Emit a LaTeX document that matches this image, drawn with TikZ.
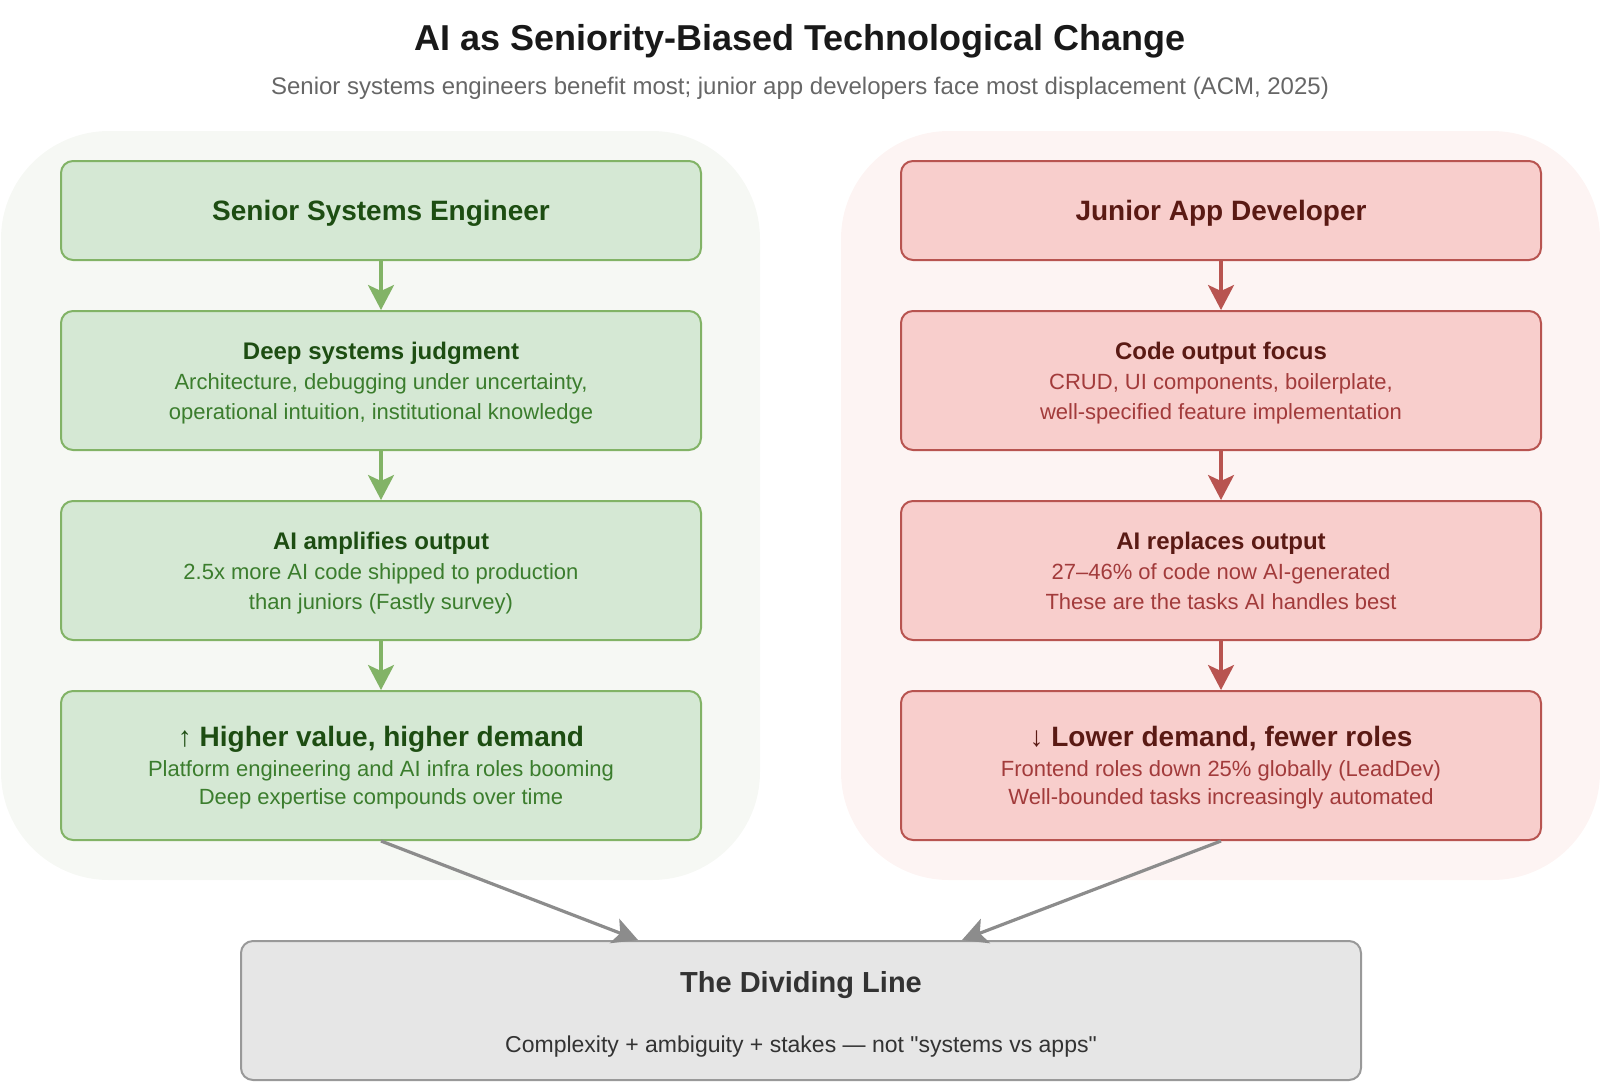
\documentclass[tikz,border=0pt]{standalone}
\usepackage{fontspec}
\setmainfont{Liberation Sans}
\usetikzlibrary{positioning, arrows.meta}
\definecolor{senbgc}{HTML}{F6F8F4}
\definecolor{junbgc}{HTML}{FDF4F3}
\definecolor{senfill}{HTML}{D5E8D4}
\definecolor{senline}{HTML}{82B366}
\definecolor{senhead}{HTML}{1D4D12}
\definecolor{sentext}{HTML}{3B7D2D}
\definecolor{junfill}{HTML}{F8CECC}
\definecolor{junline}{HTML}{B85450}
\definecolor{junhead}{HTML}{5A1A14}
\definecolor{juntext}{HTML}{A23B3B}
\definecolor{divfill}{HTML}{E6E6E6}
\definecolor{divline}{HTML}{999999}
\definecolor{mergec}{HTML}{8C8C8C}
\tikzset{
node distance=24.5pt, % gap between the boxes of one column
box/.style={draw, rounded corners=6pt, line width=1pt, minimum width=320pt, align=center, inner sep=0pt,
  text depth=0pt, font=\fontsize{11}{15}\selectfont},
senbox/.style={box, fill=senfill, draw=senline, text=sentext},
junbox/.style={box, fill=junfill, draw=junline, text=juntext},
outcome/.style={minimum height=74.5pt, font=\fontsize{11}{14}\selectfont},
divbox/.style={draw=divline, fill=divfill, rounded corners=6pt, line width=1pt, minimum width=560pt,
  minimum height=69.5pt},
divtext/.style={anchor=base, text=black!80},
senflow/.style={draw=senline, line width=1.6pt, -{Stealth[length=12.5pt,width=13pt,inset=3pt]}},
junflow/.style={draw=junline, line width=1.6pt, -{Stealth[length=12.5pt,width=13pt,inset=3pt]}},
merge/.style={draw=mergec, line width=1.6pt, -{Stealth[length=12.5pt,width=13pt,inset=3pt]}},
}

\begin{document}
\begin{tikzpicture}[x=0.5pt, y=-0.5pt]
\useasboundingbox (0,0) rectangle (1600,1082);
% heading
\node[anchor=base, font=\fontsize{18}{20}\selectfont\bfseries, text=black!90] (title) at (800,50) {AI as Seniority-Biased Technological Change};
\node[anchor=base, font=\fontsize{12}{14}\selectfont, text=black!60] (subtitle) at (800,94) {Senior systems engineers benefit most; junior app developers face most displacement (ACM, 2025)};
% column backgrounds
\fill[senbgc, rounded corners=54pt] (1,131) rectangle (760,880);
\fill[junbgc, rounded corners=54pt] (841,131) rectangle (1600,880);
% senior column
\node[senbox, minimum height=49.5pt] (sen1) at (381,210.5) {\fontsize{14}{16}\selectfont\bfseries\color{senhead}Senior Systems Engineer};
\node[senbox, minimum height=69.5pt, below=of sen1] (sen2) {{\fontsize{12}{15}\selectfont\bfseries\color{senhead}Deep systems judgment}\\Architecture, debugging under uncertainty,\\operational intuition, institutional knowledge};
\node[senbox, minimum height=69.5pt, below=of sen2] (sen3) {{\fontsize{12}{15}\selectfont\bfseries\color{senhead}AI amplifies output}\\2.5x more AI code shipped to production\\than juniors (Fastly survey)};
\node[senbox, outcome, below=of sen3] (sen4) {{\fontsize{14}{16}\selectfont\bfseries\color{senhead}↑ Higher value, higher demand}\\[1pt]Platform engineering and AI infra roles booming\\Deep expertise compounds over time};
% junior column
\node[junbox, minimum height=49.5pt] (jun1) at (1221,210.5) {\fontsize{14}{16}\selectfont\bfseries\color{junhead}Junior App Developer};
\node[junbox, minimum height=69.5pt, below=of jun1] (jun2) {{\fontsize{12}{15}\selectfont\bfseries\color{junhead}Code output focus}\\CRUD, UI components, boilerplate,\\well-specified feature implementation};
\node[junbox, minimum height=69.5pt, below=of jun2] (jun3) {{\fontsize{12}{15}\selectfont\bfseries\color{junhead}AI replaces output}\\27–46\% of code now AI-generated\\These are the tasks AI handles best};
\node[junbox, outcome, below=of jun3] (jun4) {{\fontsize{14}{16}\selectfont\bfseries\color{junhead}↓ Lower demand, fewer roles}\\[1pt]Frontend roles down 25\% globally (LeadDev)\\Well-bounded tasks increasingly automated};
% dividing line
\node[divbox] (divide) at (801,1010.5) {};
\node[divtext, font=\fontsize{14.5}{16}\selectfont\bfseries] (dividehead) at (801,992) {The Dividing Line};
\node[divtext, font=\fontsize{11.5}{14}\selectfont] (dividenote) at (801,1052) {Complexity + ambiguity + stakes — not \textquotedbl systems vs apps\textquotedbl};
% connectors
\draw[senflow] (sen1) -- (sen2);
\draw[senflow] (sen2) -- (sen3);
\draw[senflow] (sen3) -- (sen4);
\draw[junflow] (jun1) -- (jun2);
\draw[junflow] (jun2) -- (jun3);
\draw[junflow] (jun3) -- (jun4);
\draw[merge] (sen4.south) -- ([xshift=-81.5pt]divide.north);
\draw[merge] (jun4.south) -- ([xshift=80.5pt]divide.north);
\end{tikzpicture}
\end{document}
